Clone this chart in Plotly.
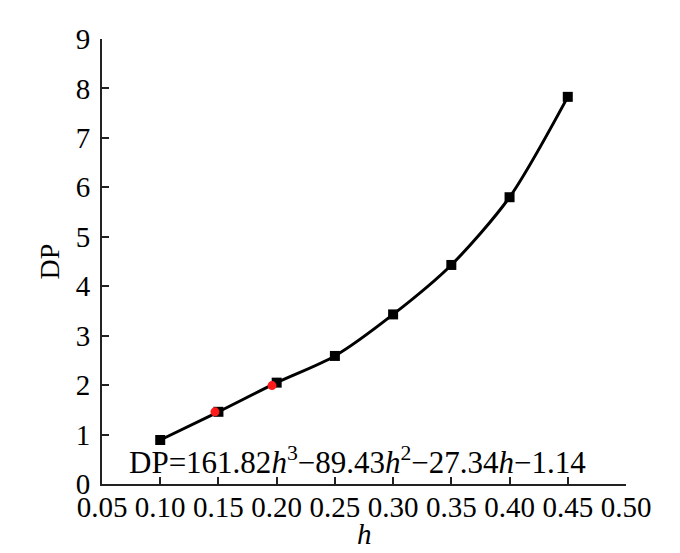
import plotly.graph_objects as go

# measured points (black squares)
h_vals = [0.10, 0.15, 0.20, 0.25, 0.30, 0.35, 0.40, 0.45]
dp_vals = [0.89, 1.46, 2.05, 2.59, 3.43, 4.43, 5.80, 7.83]

# highlighted points (red dots)
h_red = [0.147, 0.196]
dp_red = [1.46, 1.99]

x_ticks = [0.05, 0.10, 0.15, 0.20, 0.25, 0.30, 0.35, 0.40, 0.45, 0.50]
y_ticks = [0, 1, 2, 3, 4, 5, 6, 7, 8, 9]

FONT = "Liberation Serif, Times New Roman, serif"

fig = go.Figure()

fig.add_trace(go.Scatter(
    x=h_vals, y=dp_vals,
    mode="lines+markers",
    line=dict(color="black", width=3, shape="spline", smoothing=0.8),
    marker=dict(symbol="square", size=10, color="black"),
    showlegend=False,
))

fig.add_trace(go.Scatter(
    x=h_red, y=dp_red,
    mode="markers",
    marker=dict(symbol="circle", size=9, color="#ff1a1a"),
    showlegend=False,
))

fig.add_annotation(
    x=0.2696, y=0.47, xref="x", yref="y",
    text="DP=161.82<i>h</i><sup>3</sup>\u221289.43<i>h</i><sup>2</sup>\u221227.34<i>h</i>\u22121.14",
    showarrow=False,
    font=dict(family=FONT, size=31, color="black"),
)

# x-axis title placed by hand so it stays inside the page
fig.add_annotation(
    x=0.5, y=-0.113, xref="paper", yref="paper",
    text="<i>h</i>", showarrow=False, yanchor="middle",
    font=dict(family=FONT, size=29, color="black"),
)

axis_common = dict(
    showline=True, linecolor="#222", linewidth=2,
    ticks="inside", ticklen=7, tickwidth=2, tickcolor="#222",
    showgrid=False, zeroline=False, automargin=False,
    tickfont=dict(family=FONT, size=29, color="black"),
)

fig.update_xaxes(
    range=[0.05, 0.50], tickvals=x_ticks,
    ticktext=[f"{v:.2f}" for v in x_ticks],
    ticklabelstandoff=-4,
    **axis_common,
)
fig.update_yaxes(
    range=[0, 9], tickvals=y_ticks,
    ticklabelstandoff=4,
    title=dict(text="DP", font=dict(family=FONT, size=28, color="black"), standoff=8),
    **axis_common,
)

fig.update_layout(
    width=680, height=553,
    margin=dict(l=94, r=62, t=31, b=77),
    plot_bgcolor="white", paper_bgcolor="white",
)

fig.write_html("out.html")
